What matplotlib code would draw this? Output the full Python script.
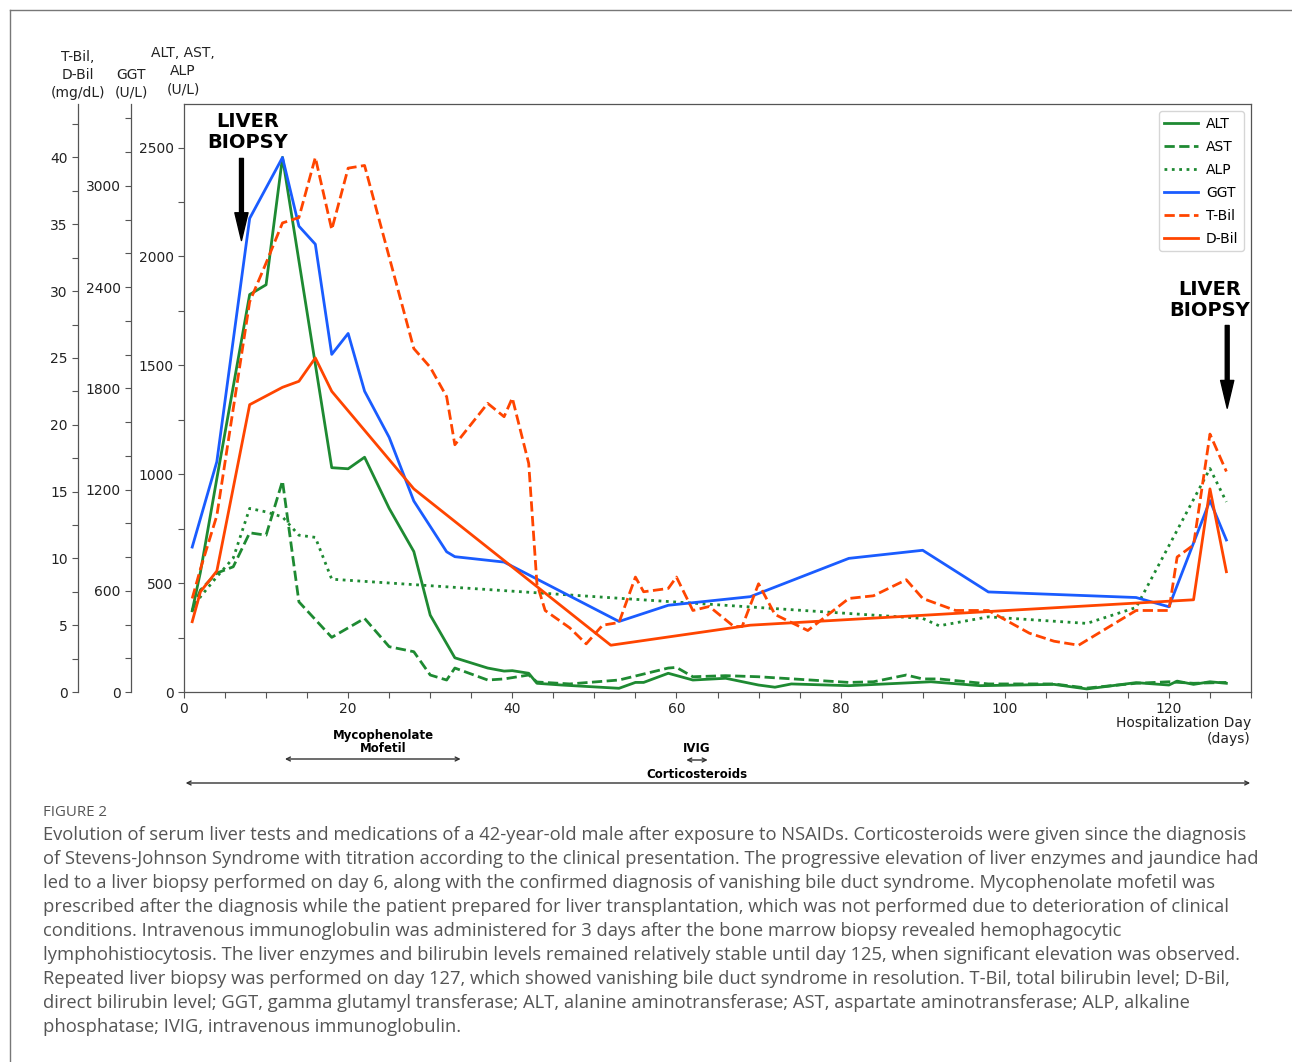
import numpy as np
import matplotlib
matplotlib.use("Agg")
import matplotlib.pyplot as plt
from matplotlib.lines import Line2D
from matplotlib.transforms import blended_transform_factory

# Data (day, value)
alt_days = [1, 2, 4, 8, 10, 12, 18, 20, 22, 25, 28, 30, 33, 37, 39, 40, 42, 43, 46, 53,
            55, 56, 59, 62, 66, 70, 72, 74, 81, 91, 97, 106, 110, 116, 120, 121, 123, 125, 127]
alt_vals = [373, 550, 980, 1825, 1870, 2455, 1030, 1025, 1078, 843, 645, 353, 157, 110, 96, 98, 86, 40, 32, 17,
            44, 44, 86, 55, 63, 32, 22, 37, 29, 47, 29, 35, 14, 43, 32, 50, 35, 47, 40]

ast_days = [1, 2, 4, 6, 8, 10, 12, 14, 18, 22, 25, 28, 30, 32, 33, 37, 39, 42, 43, 47,
            53, 59, 60, 62, 66, 70, 81, 84, 88, 90, 92, 98, 106, 110, 116, 120, 123, 127]
ast_vals = [373, 468, 546, 575, 731, 720, 969, 414, 251, 338, 208, 185, 78, 55, 110, 55, 60, 78, 46, 37,
            55, 110, 113, 70, 75, 70, 44, 47, 78, 60, 60, 37, 37, 18, 40, 47, 40, 44]

alp_days = [1, 2, 4, 6, 8, 10, 12, 14, 16, 18, 90, 92, 98, 110, 116, 125, 127]
alp_vals = [373, 437, 529, 615, 843, 827, 804, 720, 710, 518, 338, 304, 345, 315, 388, 1026, 873]

ggt_days = [1, 4, 8, 12, 14, 16, 18, 20, 22, 25, 28, 32, 33, 39, 53, 59, 69, 81, 90, 98, 116, 120, 125, 127]
ggt_vals = [859, 1365, 2807, 3168, 2761, 2654, 2001, 2125, 1783, 1509, 1132, 831, 802, 770, 418, 514,
            565, 792, 840, 593, 560, 505, 1135, 901]

tbil_days = [1, 2, 4, 8, 10, 12, 14, 16, 18, 20, 22, 28, 30, 32, 33, 37, 39, 40, 42, 43,
             44, 47, 49, 51, 53, 55, 56, 59, 60, 62, 64, 67, 68, 70, 72, 76, 81, 84, 88, 90,
             94, 98, 103, 106, 109, 116, 120, 121, 123, 125, 127]
tbil_vals = [7.0, 9.2, 13.2, 29.2, 32.1, 35.1, 35.5, 40.0, 34.6, 39.2, 39.4, 25.7, 24.3, 22.1, 18.5, 21.6, 20.6, 22.0, 17.1, 8.1,
             6.1, 4.8, 3.6, 5.0, 5.2, 8.6, 7.5, 7.75, 8.6, 6.1, 6.4, 4.9, 4.9, 8.1, 5.8, 4.6, 7.0, 7.2, 8.4, 7.0,
             6.1, 6.1, 4.4, 3.8, 3.5, 6.1, 6.1, 10.1, 11.0, 19.3, 16.5]

dbil_days = [1, 2, 4, 8, 12, 14, 16, 18, 28, 52, 69, 123, 125, 127]
dbil_vals = [5.26, 7.5, 9.05, 21.5, 22.8, 23.25, 25.0, 22.5, 15.2, 3.5, 5.0, 6.9, 15.2, 9.0]

# medication periods (start day, end day)
mmf_period = (12.3, 33.7)
ivig_period = (61.2, 63.8)
steroid_period = (0.2, 129.9)

caption_lines = [
    "Evolution of serum liver tests and medications of a 42-year-old male after exposure to NSAIDs. Corticosteroids were given since the diagnosis",
    "of Stevens-Johnson Syndrome with titration according to the clinical presentation. The progressive elevation of liver enzymes and jaundice had",
    "led to a liver biopsy performed on day 6, along with the confirmed diagnosis of vanishing bile duct syndrome. Mycophenolate mofetil was",
    "prescribed after the diagnosis while the patient prepared for liver transplantation, which was not performed due to deterioration of clinical",
    "conditions. Intravenous immunoglobulin was administered for 3 days after the bone marrow biopsy revealed hemophagocytic",
    "lymphohistiocytosis. The liver enzymes and bilirubin levels remained relatively stable until day 125, when significant elevation was observed.",
    "Repeated liver biopsy was performed on day 127, which showed vanishing bile duct syndrome in resolution. T-Bil, total bilirubin level; D-Bil,",
    "direct bilirubin level; GGT, gamma glutamyl transferase; ALT, alanine aminotransferase; AST, aspartate aminotransferase; ALP, alkaline",
    "phosphatase; IVIG, intravenous immunoglobulin.",
]

GREEN = "#1e8a32"
BLUE = "#1a5cff"
ORANGE = "orangered"
SPINE = "#555555"
TXT = "#222222"

W, H = 1292, 1062
fig = plt.figure(figsize=(W / 100, H / 100), dpi=100)
fig.patch.set_facecolor("white")

ax = fig.add_axes([184 / W, 1 - 692 / H, (1251 - 184) / W, (692 - 104) / H])
ax_ggt = ax.twinx()
ax_bil = ax.twinx()

# enzymes on main axis, GGT and bilirubin on their own scales
l_alt, = ax.plot(alt_days, alt_vals, color=GREEN, lw=2, label="ALT")
l_ast, = ax.plot(ast_days, ast_vals, color=GREEN, lw=2, ls="--", label="AST")
l_alp, = ax.plot(alp_days, alp_vals, color=GREEN, lw=2, ls=":", label="ALP")
l_ggt, = ax_ggt.plot(ggt_days, ggt_vals, color=BLUE, lw=2, label="GGT")
l_tb, = ax_bil.plot(tbil_days, tbil_vals, color=ORANGE, lw=2, ls="--", label="T-Bil")
l_db, = ax_bil.plot(dbil_days, dbil_vals, color=ORANGE, lw=2, label="D-Bil")

ax.set_xlim(0, 130)
ax.set_ylim(0, 2700)
ax_ggt.set_ylim(0, 3485)
ax_bil.set_ylim(0, 44)

xt = np.arange(0, 131, 5)
ax.set_xticks(xt)
ax.set_xticklabels([str(v) if v % 20 == 0 else "" for v in xt])

yt = np.arange(0, 2501, 250)
ax.set_yticks(yt)
ax.set_yticklabels([str(v) if v % 500 == 0 else "" for v in yt])

gt = np.arange(0, 3401, 200)
ax_ggt.set_yticks(gt)
ax_ggt.set_yticklabels([str(v) if v % 600 == 0 else "" for v in gt])

bt = np.arange(0, 42.6, 2.5)
ax_bil.set_yticks(bt)
ax_bil.set_yticklabels([str(int(v)) if v % 5 == 0 else "" for v in bt])

for a, off in [(ax_ggt, -53 / 1067), (ax_bil, -106 / 1067)]:
    a.yaxis.set_ticks_position("left")
    a.spines["left"].set_position(("axes", off))
    a.spines["left"].set_visible(True)
    for s in ["right", "top", "bottom"]:
        a.spines[s].set_visible(False)
    a.patch.set_visible(False)

for a in [ax, ax_ggt, ax_bil]:
    a.tick_params(length=4, width=0.8, color=SPINE, labelcolor=TXT, labelsize=10)
    for s in a.spines.values():
        s.set_color(SPINE)
        s.set_linewidth(0.9)

# axis titles above the spines
fig.text(78 / W, 1 - 100 / H, "T-Bil,\nD-Bil\n(mg/dL)", ha="center", va="bottom", fontsize=10,
         color=TXT, linespacing=1.35)
fig.text(131 / W, 1 - 100 / H, "GGT\n(U/L)", ha="center", va="bottom", fontsize=10,
         color=TXT, linespacing=1.35)
fig.text(183 / W, 1 - 96 / H, "ALT, AST,\nALP\n(U/L)", ha="center", va="bottom", fontsize=10,
         color=TXT, linespacing=1.35)

# biopsy markers
ax.text(7.7, 2570, "LIVER\nBIOPSY", ha="center", va="center", fontsize=14, fontweight="bold", linespacing=1.15)
ax.annotate("", xy=(7, 2073), xytext=(7, 2450),
            arrowprops=dict(facecolor="black", edgecolor="black", width=2.8, headwidth=9.5, headlength=20, shrink=0))
ax.text(125.0, 1800, "LIVER\nBIOPSY", ha="center", va="center", fontsize=14, fontweight="bold", linespacing=1.15)
ax.annotate("", xy=(127.1, 1303), xytext=(127.1, 1683),
            arrowprops=dict(facecolor="black", edgecolor="black", width=2.8, headwidth=9.5, headlength=20, shrink=0))

ax_bil.legend(handles=[l_alt, l_ast, l_alp, l_ggt, l_tb, l_db], loc="upper right", fontsize=10,
              labelspacing=0.65, handlelength=2.4, handletextpad=0.6, borderaxespad=0.5)

# x label below axis
ax.text(1.0, -0.04, "Hospitalization Day\n(days)", transform=ax.transAxes, ha="right", va="top",
        fontsize=10, color=TXT, linespacing=1.2)

# medication bars
trans = blended_transform_factory(ax.transData, fig.transFigure)
for (s, e), ypix in [(mmf_period, 759), (ivig_period, 760), (steroid_period, 783)]:
    ax.annotate("", xy=(s, 1 - ypix / H), xytext=(e, 1 - ypix / H), xycoords=trans, textcoords=trans,
                arrowprops=dict(arrowstyle="<->", color="#333333", lw=1, shrinkA=0, shrinkB=0,
                                mutation_scale=7), annotation_clip=False)
ax.text(24.3, 1 - 742 / H, "Mycophenolate\nMofetil", transform=trans, ha="center", va="center",
        fontsize=8.5, fontweight="bold", linespacing=1.05)
ax.text(62.5, 1 - 748 / H, "IVIG", transform=trans, ha="center", va="center", fontsize=8.5, fontweight="bold")
ax.text(62.5, 1 - 775 / H, "Corticosteroids", transform=trans, ha="center", va="center",
        fontsize=8.5, fontweight="bold")

# frame around the figure panel
fig.add_artist(Line2D([10 / W, 10 / W], [0, 1 - 10 / H], color="#777777", lw=1))
fig.add_artist(Line2D([10 / W, 1], [1 - 10 / H, 1 - 10 / H], color="#777777", lw=1))

# caption
fig.text(43 / W, 1 - 812 / H, "FIGURE 2", ha="left", va="center", fontsize=10.8, color="#555555",
         family="Open Sans")
for i, line in enumerate(caption_lines):
    fig.text(43 / W, 1 - (835 + 24 * i) / H, line, ha="left", va="center", fontsize=13.2,
             color="#555555", family="Open Sans")

fig.savefig("out.png", dpi=100)
